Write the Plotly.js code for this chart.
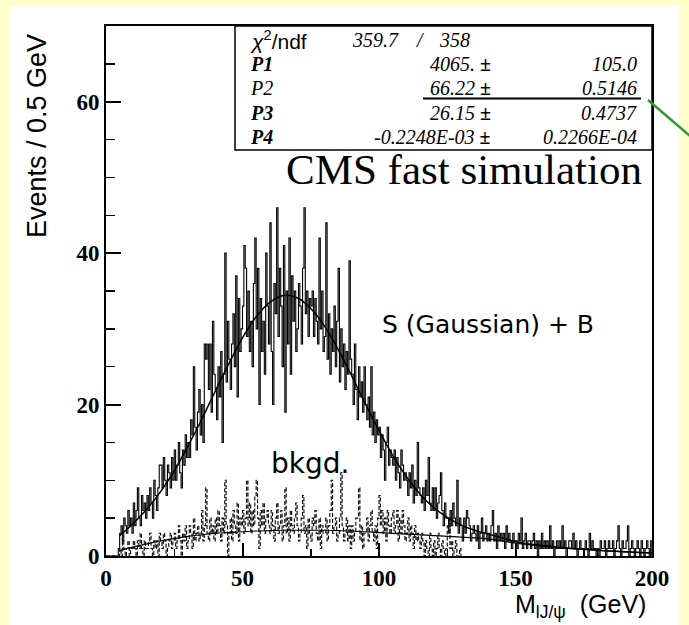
<!DOCTYPE html>
<html>
<head>
<meta charset="utf-8">
<script src="https://cdn.plot.ly/plotly-3.0.1.min.js"></script>
<style>html,body{margin:0;padding:0;background:#ffffcc;}</style>
</head>
<body>
<div id="chart" style="width:689px;height:625px;"></div>
<script>
// ---- data ----
const binWidth = 0.5;   // GeV per bin
const histStart = 0;    // GeV, left edge of first bin

// S + B histogram, 400 bins of 0.5 GeV (0 - 200 GeV)
const totalCounts = [
  0,0,0,0,0,0,0,0,0,1,
  3,4,2,5,4,3,6,4,5,3,
  7,4,6,9,5,4,8,6,7,5,
  8,6,9,7,5,10,8,6,9,12,
  12,9,13,10,8,12,11,9,13,10,
  14,10,12,15,11,9,14,12,16,13,
  15,13,18,16,25,17,14,19,22,16,
  20,15,28,26,28,22,28,19,31,24,
  22,18,25,21,27,15,24,40,23,31,
  26,22,28,32,25,37,21,34,27,30,
  33,41,38,29,35,27,31,25,36,42,
  30,38,20,34,27,31,24,40,33,28,
  44,27,20,36,32,46,29,38,33,25,
  41,19,35,28,42,24,37,31,35,27,
  30,36,33,28,38,46,32,35,29,34,
  33,35,29,34,31,28,42,30,35,27,
  29,44,26,32,24,30,27,33,25,31,
  38,23,30,25,28,22,27,24,39,26,
  24,20,28,22,18,25,21,23,19,25,
  20,18,21,17,25,16,19,15,18,16,
  17,13,16,14,10,15,17,12,14,13,
  12,14,10,13,11,9,14,12,10,11,
  10,8,11,9,12,7,10,8,15,9,
  8,7,9,6,10,8,13,7,6,9,
  6,9,5,7,8,11,6,4,7,5,
  5,3,6,4,7,5,4,10,3,5,
  4,2,5,3,6,5,4,2,3,4,
  3,2,4,1,3,5,2,3,4,2,
  3,2,4,6,2,3,1,4,2,3,
  2,3,1,4,2,3,2,1,3,2,
  2,1,3,2,5,1,2,3,1,2,
  2,1,2,3,1,2,0,2,1,3,
  1,2,1,2,1,4,1,2,0,1,
  2,1,2,1,4,1,2,0,1,2,
  2,1,3,1,2,0,1,2,1,1,
  1,2,1,0,3,1,2,1,1,0,
  1,0,2,1,1,2,0,1,2,1,
  1,2,0,1,2,4,1,0,2,1,
  1,2,4,0,1,2,1,0,1,2,
  1,0,2,1,0,1,2,1,0,2
];

// background-only histogram (dashed), 0.5 GeV bins from 0 to 130 GeV
const bkgdCounts = [
  0,0,0,0,0,0,0,0,0,0,
  1,0,2,1,0,1,2,0,1,1,
  2,1,0,2,1,3,1,0,2,1,
  1,2,3,1,0,2,1,2,0,3,
  2,1,3,2,0,1,2,3,1,2,
  3,1,2,4,2,0,3,2,4,1,
  2,4,3,1,5,2,3,4,2,3,
  6,2,4,9,3,2,5,3,4,2,
  5,3,6,4,2,5,3,10,4,0,
  3,5,2,6,4,3,7,2,5,4,
  6,3,5,10,4,7,3,6,4,8,
  10,5,1,6,4,7,3,5,6,4,
  3,6,4,2,5,7,3,4,6,2,
  4,9,3,5,2,6,4,3,5,7,
  4,2,3,5,8,3,4,1,5,3,
  2,5,4,6,3,2,5,1,4,3,
  3,5,2,4,6,10,3,4,5,2,
  3,5,11,4,2,3,5,2,4,1,
  4,2,3,5,5,9,2,4,1,3,
  3,5,2,4,6,3,2,4,1,5,
  8,4,6,3,5,2,6,4,3,5,
  6,3,4,6,2,5,3,6,4,2,
  3,5,2,4,3,1,4,2,3,2,
  1,3,2,0,2,1,0,3,1,0,
  2,0,1,3,1,0,2,1,0,1,
  4,5,1,2,0,1,2,0,0,1
];

// fitted curves read at 5 GeV steps
const fitX = [5,10,15,20,25,30,35,40,45,50,55,60,65,70,75,80,85,90,95,100,
              105,110,115,120,125,130,135,140,145,150,155,160,165,170,175,180,185,190,195,200];
const fitTotal = [2.7,4.3,6.2,8.5,11.25,14.5,18.0,21.75,25.4,28.8,31.6,33.5,34.4,34.1,32.7,30.4,27.3,23.8,20.1,16.6,
                  13.3,10.5,8.2,6.4,5.1,4.1,3.4,2.9,2.4,1.9,1.6,1.4,1.2,1.0,0.9,0.75,0.65,0.55,0.47,0.4];
const fitBkgd  = [0.7,1.2,1.6,2.0,2.3,2.6,2.8,3.0,3.1,3.2,3.3,3.35,3.4,3.4,3.4,3.4,3.35,3.3,3.2,3.1,
                  3.0,2.9,2.8,2.7,2.6,2.5,2.4,2.25,2.0,1.7,1.5,1.3,1.15,1.0,0.88,0.75,0.65,0.55,0.47,0.4];

const xTickVals = [0, 50, 100, 150, 200];
const yTickVals = [0, 20, 40, 60];

const chi2Value = '359.7';
const ndfValue = '358';
const parNames  = ['P1', 'P2', 'P3', 'P4'];
const parBold   = [true, false, true, true];
const parValues = ['4065.', '66.22', '26.15', '-0.2248E-03'];
const parErrors = ['105.0', '0.5146', '0.4737', '0.2266E-04'];

// ---- build step outlines ----
function stepXY(counts) {
  const xs = [], ys = [];
  for (let i = 0; i < counts.length; i++) {
    xs.push(histStart + i * binWidth);
    ys.push(counts[i]);
  }
  xs.push(histStart + counts.length * binWidth);
  ys.push(0);
  return {xs, ys};
}
const tot = stepXY(totalCounts);
const bkg = stepXY(bkgdCounts);

const traces = [
  {x: bkg.xs, y: bkg.ys, type: 'scatter', mode: 'lines',
   line: {shape: 'hv', color: '#000', width: 1.1, dash: '4px,2px'}, hoverinfo: 'skip'},
  {x: tot.xs, y: tot.ys, type: 'scatter', mode: 'lines',
   line: {shape: 'hv', color: '#000', width: 1.1}, hoverinfo: 'skip'},
  {x: fitX, y: fitBkgd, type: 'scatter', mode: 'lines',
   line: {shape: 'spline', color: '#000', width: 1.2}, hoverinfo: 'skip'},
  {x: fitX, y: fitTotal, type: 'scatter', mode: 'lines',
   line: {shape: 'spline', color: '#000', width: 1.5}, hoverinfo: 'skip'}
];

// ---- geometry helpers (pixel -> paper) ----
const L = 106, R = 37, T = 26, B = 69, W = 689, H = 625;
const PW = W - L - R, PH = H - T - B;
const px = v => (v - L) / PW;
const py = v => (H - B - v) / PH;

const tickFont = {family: 'Liberation Serif', size: 23, color: '#000', weight: 'bold'};
const statFont = {family: 'Liberation Serif', size: 20, color: '#000'};

const annotations = [
  {text: 'Events / 0.5 GeV', textangle: -90, x: px(37), y: py(136), xref: 'paper', yref: 'paper',
   xanchor: 'center', yanchor: 'middle', showarrow: false,
   font: {family: 'Liberation Sans', size: 27, color: '#000'}},
  {text: 'M<sub>lJ/ψ</sub>  (GeV)', x: px(648), y: py(606), xref: 'paper', yref: 'paper',
   xanchor: 'right', yanchor: 'middle', showarrow: false,
   font: {family: 'Liberation Sans', size: 25, color: '#000'}},
  {text: 'CMS fast simulation', x: px(644), y: py(169), xref: 'paper', yref: 'paper',
   xanchor: 'right', yanchor: 'middle', showarrow: false,
   font: {family: 'Liberation Serif', size: 43, color: '#000'}},
  {text: 'S (Gaussian) + B', x: px(380), y: py(324), xref: 'paper', yref: 'paper',
   xanchor: 'left', yanchor: 'middle', showarrow: false,
   font: {family: 'DejaVu Sans', size: 25, color: '#000'}},
  {text: 'bkgd.', x: px(269), y: py(463), xref: 'paper', yref: 'paper',
   xanchor: 'left', yanchor: 'middle', showarrow: false,
   font: {family: 'DejaVu Sans', size: 28, color: '#000'}},
  // stats box
  {text: '<i>χ</i><sup>2</sup>/ndf', x: px(248), y: py(40), xref: 'paper', yref: 'paper',
   xanchor: 'left', yanchor: 'middle', showarrow: false,
   font: {family: 'Liberation Sans', size: 21, color: '#000'}},
  {text: '<i>' + chi2Value + '</i>', x: px(350), y: py(40), xref: 'paper', yref: 'paper',
   xanchor: 'left', yanchor: 'middle', showarrow: false, font: statFont},
  {text: '<i>/</i>', x: px(420), y: py(40), xref: 'paper', yref: 'paper',
   xanchor: 'center', yanchor: 'middle', showarrow: false, font: statFont},
  {text: '<i>' + ndfValue + '</i>', x: px(472), y: py(40), xref: 'paper', yref: 'paper',
   xanchor: 'right', yanchor: 'middle', showarrow: false, font: statFont}
];
const rowY = [63.5, 87.5, 112.5, 137];
parNames.forEach((n, i) => {
  annotations.push({text: parBold[i] ? '<b><i>' + n + '</i></b>' : '<i>' + n + '</i>',
    x: px(248), y: py(rowY[i]), xref: 'paper', yref: 'paper', xanchor: 'left', yanchor: 'middle',
    showarrow: false, font: statFont});
  annotations.push({text: '<i>' + parValues[i] + '</i> <b>±</b>',
    x: px(493), y: py(rowY[i]), xref: 'paper', yref: 'paper', xanchor: 'right', yanchor: 'middle',
    showarrow: false, font: statFont});
  annotations.push({text: '<i>' + parErrors[i] + '</i>',
    x: px(639), y: py(rowY[i]), xref: 'paper', yref: 'paper', xanchor: 'right', yanchor: 'middle',
    showarrow: false, font: statFont});
});

const shapes = [
  {type: 'rect', xref: 'paper', yref: 'paper', x0: px(10), x1: px(679), y0: py(640), y1: py(6),
   fillcolor: '#ffffff', line: {width: 0}, layer: 'below'},
  {type: 'rect', xref: 'paper', yref: 'paper', x0: px(235), x1: 1, y0: py(150), y1: 1,
   fillcolor: '#ffffff', line: {color: '#000', width: 1.5}, layer: 'above'},
  {type: 'line', xref: 'paper', yref: 'paper', x0: px(423), x1: px(641), y0: py(98.5), y1: py(98.5),
   line: {color: '#000', width: 2}, layer: 'above'},
  {type: 'line', xref: 'paper', yref: 'paper', x0: px(648), x1: px(690), y0: py(100), y1: py(136),
   line: {color: '#339933', width: 2.5}, layer: 'above'}
];

const layout = {
  width: W, height: H,
  margin: {l: L, r: R, t: T, b: B, pad: 0},
  paper_bgcolor: '#ffffcc',
  plot_bgcolor: '#ffffff',
  showlegend: false,
  xaxis: {
    range: [0, 200], tickmode: 'array', tickvals: xTickVals, ticktext: xTickVals.map(String),
    ticks: 'inside', ticklen: 13, tickwidth: 2, tickcolor: '#000',
    showline: true, linewidth: 2, linecolor: '#000', mirror: true,
    showgrid: false, zeroline: false, tickfont: tickFont,
    minor: {tick0: 0, dtick: 25, ticks: 'inside', ticklen: 7, tickwidth: 1.5, tickcolor: '#000', showgrid: false},
    fixedrange: true
  },
  yaxis: {
    range: [0, 70], tickmode: 'array', tickvals: yTickVals, ticktext: yTickVals.map(String),
    ticks: 'inside', ticklen: 15, tickwidth: 2, tickcolor: '#000',
    showline: true, linewidth: 2, linecolor: '#000', mirror: true,
    showgrid: false, zeroline: false, tickfont: tickFont,
    minor: {tick0: 0, dtick: 5, ticks: 'inside', ticklen: 9, tickwidth: 1.5, tickcolor: '#000', showgrid: false},
    fixedrange: true
  },
  annotations: annotations,
  shapes: shapes
};

Plotly.newPlot('chart', traces, layout, {displayModeBar: false, staticPlot: true});
</script>
</body>
</html>
